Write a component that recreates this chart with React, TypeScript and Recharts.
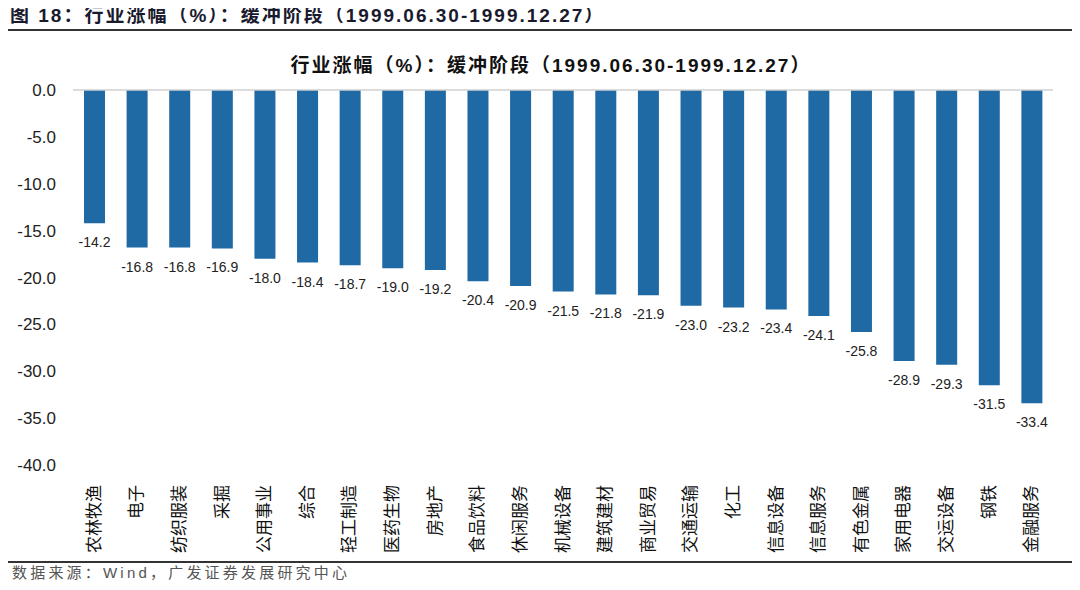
import React from 'react';
import { BarChart, Bar, XAxis, YAxis, ReferenceLine, LabelList } from 'recharts';

const categories = [
  '农林牧渔', '电子', '纺织服装', '采掘', '公用事业', '综合', '轻工制造', '医药生物',
  '房地产', '食品饮料', '休闲服务', '机械设备', '建筑建材', '商业贸易', '交通运输', '化工',
  '信息设备', '信息服务', '有色金属', '家用电器', '交运设备', '钢铁', '金融服务',
];
const changes = [
  -14.2, -16.8, -16.8, -16.9, -18.0, -18.4, -18.7, -19.0,
  -19.2, -20.4, -20.9, -21.5, -21.8, -21.9, -23.0, -23.2,
  -23.4, -24.1, -25.8, -28.9, -29.3, -31.5, -33.4,
];
const yTicks = [0, -5, -10, -15, -20, -25, -30, -35, -40];

const data = categories.map((name, i) => ({ name, value: changes[i] }));

const FONT = '"Liberation Sans", "Noto Sans CJK SC", sans-serif';
const BLUE = '#1f69a5';

function CategoryTick(props: any) {
  const { x, y, payload } = props;
  return (
    <text
      transform={`translate(${x}, ${y + 12}) rotate(-90)`}
      textAnchor="end"
      dominantBaseline="central"
      fontSize={17}
      fill="#111"
      fontFamily={FONT}
    >
      {payload.value}
    </text>
  );
}

function ValueLabel(props: any) {
  const { x, y, width, height, value } = props;
  const end = Math.max(y, y + height);
  return (
    <text
      x={x + width / 2}
      y={end + 19}
      textAnchor="middle"
      dominantBaseline="central"
      fontSize={14}
      fill="#222"
      fontFamily={FONT}
    >
      {Number(value).toFixed(1)}
    </text>
  );
}

export default function App() {
  return (
    <div style={{ position: 'relative', width: 1080, height: 590, margin: -8, background: '#fff', fontFamily: FONT, overflow: 'hidden' }}>
      <div style={{ position: 'absolute', left: 10, top: 0, fontSize: 19, fontWeight: 'bold', color: '#1a1a2e', whiteSpace: 'nowrap', letterSpacing: 2 }}>
        图 18：行业涨幅（%）：缓冲阶段（1999.06.30-1999.12.27）
      </div>
      <div style={{ position: 'absolute', left: 0, top: 29, width: 1080, height: 2, background: '#333' }} />
      <div style={{ position: 'absolute', left: 0, top: 50, width: 1102, textAlign: 'center', fontSize: 19, fontWeight: 'bold', color: '#111', whiteSpace: 'nowrap', letterSpacing: 2 }}>
        行业涨幅（%）：缓冲阶段（1999.06.30-1999.12.27）
      </div>
      <div style={{ position: 'absolute', left: 0, top: 0 }}>
        <BarChart width={1080} height={560} data={data} margin={{ top: 90, right: 27, left: 0, bottom: 0 }}>
          <XAxis dataKey="name" height={95} axisLine={false} tickLine={false} interval={0} tick={<CategoryTick />} />
          <YAxis
            width={73}
            domain={[-40, 0]}
            ticks={yTicks}
            axisLine={false}
            tickLine={false}
            tickSize={0}
            tickMargin={17}
            tickFormatter={(v: number) => v.toFixed(1)}
            tick={{ fontSize: 17, fill: '#222', fontFamily: FONT }}
          />
          <ReferenceLine y={0} stroke="#d0d0d0" strokeWidth={1.5} />
          <Bar dataKey="value" fill={BLUE} barSize={21} isAnimationActive={false}>
            <LabelList dataKey="value" content={<ValueLabel />} />
          </Bar>
        </BarChart>
      </div>
      <div style={{ position: 'absolute', left: 0, top: 561, width: 1080, height: 2, background: '#333' }} />
      <div style={{ position: 'absolute', left: 12, top: 564, fontSize: 15, lineHeight: '18px', color: '#555', letterSpacing: 3.2, whiteSpace: 'nowrap' }}>
        数据来源：Wind，广发证券发展研究中心
      </div>
    </div>
  );
}
